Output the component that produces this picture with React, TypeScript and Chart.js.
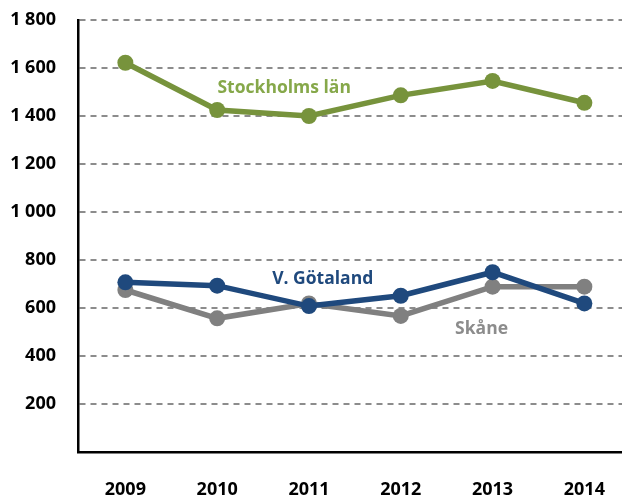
import React, { useEffect, useRef } from "react";
import { Chart, registerables } from "chart.js";

Chart.register(...registerables);

const years = ["2009", "2010", "2011", "2012", "2013", "2014"];
const stockholm = [1622, 1425, 1400, 1486, 1546, 1455];
const vGotaland = [707, 693, 608, 651, 749, 619];
const skane = [675, 557, 619, 567, 689, 689];
const yTicks = [200, 400, 600, 800, 1000, 1200, 1400, 1600, 1800];

const seriesNames = ["Stockholms län", "V. Götaland", "Skåne"];
const seriesColors = ["#77933C", "#1F497D", "#808080"];
const labelColors = ["#86A84A", "#1F497D", "#8C8C8C"];
// label anchor in data units: [x index, y value]
const labelAnchors: [number, number][] = [
  [1.73, 1517],
  [2.15, 721],
  [3.88, 512],
];

const FONT = "'Open Sans', 'Liberation Sans', sans-serif";

function fmt(v: number): string {
  const s = String(v);
  return s.length > 3 ? s.slice(0, s.length - 3) + " " + s.slice(-3) : s;
}

const labelPlugin = {
  id: "inlineLabels",
  afterDatasetsDraw(chart: any) {
    const { ctx, scales } = chart;
    ctx.save();
    ctx.font = `bold 17.5px ${FONT}`;
    ctx.textAlign = "center";
    ctx.textBaseline = "middle";
    seriesNames.forEach((name, i) => {
      const [xi, yv] = labelAnchors[i];
      ctx.fillStyle = labelColors[i];
      ctx.fillText(name, scales.x.getPixelForValue(xi), scales.y.getPixelForValue(yv));
    });
    ctx.restore();
  },
};

export default function App() {
  const ref = useRef<HTMLCanvasElement>(null);
  useEffect(() => {
    document.body.style.margin = "0";
    const mk = (data: number[]) => data.map((y, i) => ({ x: i, y }));
    const datasets = [stockholm, vGotaland, skane].map((d, i) => ({
      label: seriesNames[i],
      data: mk(d),
      borderColor: seriesColors[i],
      backgroundColor: seriesColors[i],
      pointBackgroundColor: seriesColors[i],
      pointBorderColor: seriesColors[i],
      borderWidth: 5.5,
      pointRadius: 8,
      pointBorderWidth: 0,
      tension: 0,
    }));
    const chart = new Chart(ref.current!, {
      type: "line",
      data: { datasets },
      plugins: [labelPlugin],
      options: {
        animation: false,
        responsive: false,
        events: [],
        layout: { padding: { top: 20, right: 0, left: 0, bottom: 0 } },
        plugins: { legend: { display: false }, tooltip: { enabled: false } },
        scales: {
          x: {
            type: "linear",
            min: -0.516,
            max: 5.41,
            afterBuildTicks: (axis: any) => {
              axis.ticks = years.map((_, i) => ({ value: i }));
            },
            afterFit: (axis: any) => {
              axis.height = 45;
              axis.paddingLeft = 0;
              axis.paddingRight = 0;
            },
            ticks: {
              callback: (v: any) => years[v as number] ?? "",
              color: "#000",
              font: { family: FONT, size: 18, weight: "bold" },
              padding: 27,
              maxRotation: 0,
              autoSkip: false,
            },
            grid: { display: false, drawTicks: false },
            border: { display: true, color: "#000", width: 2.5 },
          },
          y: {
            min: 0,
            max: 1800,
            afterBuildTicks: (axis: any) => {
              axis.ticks = [0, ...yTicks].map((v) => ({ value: v }));
            },
            afterFit: (axis: any) => {
              axis.width = 78;
              axis.paddingTop = 0;
              axis.paddingBottom = 0;
            },
            ticks: {
              callback: (v: any) => (v === 0 ? "" : fmt(v as number)),
              color: "#000",
              font: { family: FONT, size: 18, weight: "bold" },
              padding: 22,
            },
            grid: {
              drawTicks: false,
              color: (c: any) => (c.tick && c.tick.value === 0 ? "rgba(0,0,0,0)" : "#8C8C8C"),
              lineWidth: 2,
            },
            border: { display: true, color: "#000", width: 2.5, dash: [6, 5] },
          },
        },
      } as any,
    });
    return () => chart.destroy();
  }, []);
  return (
    <div style={{ width: 622, height: 497, overflow: "hidden" }}>
      <canvas ref={ref} width={630} height={497} style={{ display: "block" }} />
    </div>
  );
}
